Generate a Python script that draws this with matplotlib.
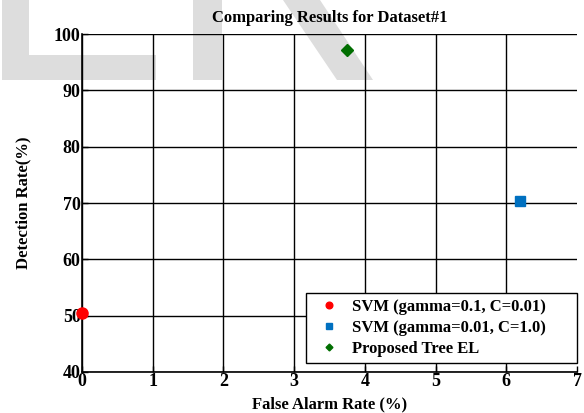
import matplotlib
matplotlib.use('Agg')
from matplotlib import pyplot as plt
from matplotlib.patches import Polygon

# false alarm rate (%) / detection rate (%)
labels = ['SVM (gamma=0.1, C=0.01)', 'SVM (gamma=0.01, C=1.0)', 'Proposed Tree EL']
far = [0.0, 6.2, 3.75]
dr = [50.5, 70.3, 97.1]
colors = ['#ff0000', '#0070c0', '#006e00']
markers = ['o', 's', 'D']
sizes = [8, 7.5, 5.8]

x_ticks = [0, 1, 2, 3, 4, 5, 6, 7]
y_ticks = [40, 50, 60, 70, 80, 90, 100]

plt.rcParams['font.family'] = 'Liberation Serif'
plt.rcParams['font.weight'] = 'bold'

fig = plt.figure(figsize=(5.84, 4.13), dpi=100)

# faint watermark shapes behind everything (pixel coords, y from top)
W, H = 584, 413
bg = fig.add_axes([0, 0, 1, 1], zorder=-1)
bg.set_xlim(0, W)
bg.set_ylim(H, 0)
bg.axis('off')
shapes = [
    [(2, 0), (29, 0), (29, 55), (156, 55), (156, 80), (2, 80)],
    [(193, 0), (222, 0), (222, 80), (193, 80)],
    [(283, 0), (320, 0), (373, 80), (337, 80)],
]
for pts in shapes:
    bg.add_patch(Polygon(pts, closed=True, facecolor='#dddddd', edgecolor='none'))

ax = fig.add_axes([82 / W, 1 - 372 / H, (577 - 82) / W, (372 - 34) / H])
ax.patch.set_alpha(0)

for x, y, c, m, s, lab in zip(far, dr, colors, markers, sizes, labels):
    ax.plot(x, y, linestyle='none', marker=m, color=c, markersize=s,
            label=lab, clip_on=False, zorder=5)

ax.set_xlim(0, 7)
ax.set_ylim(40, 100)
ax.set_xticks(x_ticks)
ax.set_yticks(y_ticks)
ax.grid(True, color='black', linewidth=1.0, linestyle='-')
ax.set_axisbelow(True)
ax.get_xgridlines()[-1].set_visible(False)
for side in ['top', 'right']:
    ax.spines[side].set_visible(False)
for side in ['left', 'bottom']:
    ax.spines[side].set_linewidth(1.2)
ax.tick_params(direction='in', length=4, width=1, labelsize=13, pad=1)
for t in ax.get_xticklabels() + ax.get_yticklabels():
    t.set_fontweight('bold')

ax.set_title('Comparing Results for Dataset#1', fontsize=12, fontweight='bold', pad=9)
ax.set_xlabel('False Alarm Rate (%)', fontsize=12, fontweight='bold', labelpad=4)
ax.set_ylabel('Detection Rate(%)', fontsize=12, fontweight='bold', labelpad=16)

leg = ax.legend(loc='lower left', bbox_to_anchor=(224 / 495, 0.027, 271 / 495, 0.2),
                mode='expand', borderaxespad=0,
                fancybox=False, edgecolor='black', framealpha=1, markerscale=0.6,
                prop={'family': 'Liberation Serif', 'weight': 'bold', 'size': 12},
                handletextpad=0.4, borderpad=0.35, labelspacing=0.3)
leg.get_frame().set_linewidth(1.0)

fig.savefig('out.png', dpi=100)
